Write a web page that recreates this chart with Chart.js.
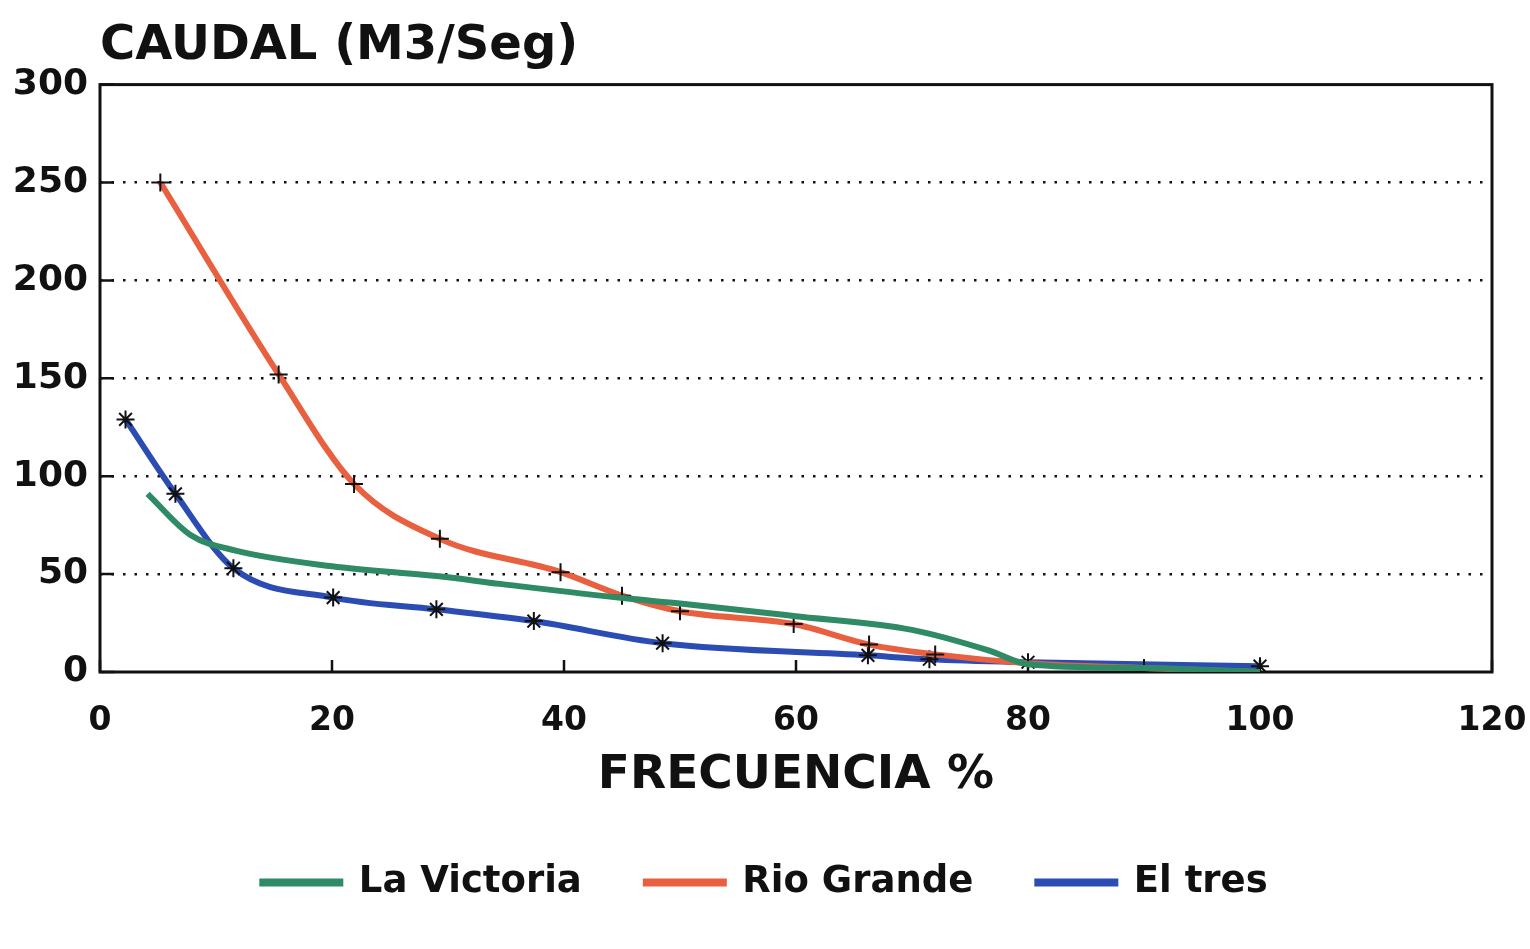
<!DOCTYPE html>
<html>
<head>
<meta charset="utf-8">
<script src="https://cdn.jsdelivr.net/npm/chart.js@4.4.1/dist/chart.umd.min.js"></script>
<style>
  html, body { margin: 0; background: #fff; }
  canvas { display: block; }
</style>
</head>
<body>
<canvas id="caudal" width="1530" height="949"></canvas>
<script>
// axis ticks
const xTicks = [0, 20, 40, 60, 80, 100, 120]
const yTicks = [0, 50, 100, 150, 200, 250, 300]

// frecuencia % / caudal (m3/seg)
const victoriaX = [4.1, 7.8, 11.7, 20, 29, 34.5, 45.5, 50, 59.8, 70, 76.6, 80, 90, 100]
const victoriaY = [91, 70, 62, 54, 49, 45, 37.5, 35, 28.6, 21.5, 11, 4, 2, 0]

const rioGrandeX = [5.2, 15.4, 21.9, 29.3, 39.7, 45, 50, 59.8, 66.3, 72, 80, 90, 100]
const rioGrandeY = [250, 152, 96, 68, 51, 39, 31, 24.5, 14, 9, 4.5, 2, 0]

const elTresX = [2.2, 6.5, 11.5, 20.1, 29, 37.4, 48.5, 66.2, 71.5, 80, 100]
const elTresY = [129, 91, 53, 38, 32, 26, 14.7, 8.5, 6.5, 5, 3]

const pts = (xs, ys) => xs.map((x, i) => ({ x, y: ys[i] }))

Chart.defaults.font.family = "'DejaVu Sans', sans-serif"
Chart.defaults.font.weight = 'bold'
Chart.defaults.color = '#111'

// box round the plot and the short inward tick marks
const frame = {
  id: 'frame',
  beforeDatasetsDraw(chart) {
    const { ctx, chartArea: a, scales: { x, y } } = chart
    ctx.save()
    ctx.strokeStyle = '#111'
    ctx.lineWidth = 3
    ctx.strokeRect(a.left, a.top, a.right - a.left, a.bottom - a.top)
    ctx.lineWidth = 2.5
    ctx.beginPath()
    x.ticks.forEach(t => {
      const px = x.getPixelForValue(t.value)
      ctx.moveTo(px, a.bottom)
      ctx.lineTo(px, a.bottom - 12)
    })
    y.ticks.forEach(t => {
      const py = y.getPixelForValue(t.value)
      ctx.moveTo(a.left, py)
      ctx.lineTo(a.left + 14, py)
    })
    ctx.stroke()
    ctx.restore()
  }
}

new Chart(document.getElementById('caudal').getContext('2d'), {
  type: 'line',
  data: {
    datasets: [
      {
        label: 'La Victoria',
        data: pts(victoriaX, victoriaY),
        borderColor: '#2f8a66',
        backgroundColor: '#2f8a66',
        borderWidth: 6,
        pointRadius: 0,
        cubicInterpolationMode: 'monotone'
      },
      {
        label: 'Rio Grande',
        data: pts(rioGrandeX, rioGrandeY),
        borderColor: '#e8603f',
        backgroundColor: '#e8603f',
        borderWidth: 6,
        pointStyle: 'cross',
        pointRadius: 9,
        pointBorderColor: '#111',
        pointBorderWidth: 2,
        cubicInterpolationMode: 'monotone'
      },
      {
        label: 'El tres',
        data: pts(elTresX, elTresY),
        borderColor: '#2b4db3',
        backgroundColor: '#2b4db3',
        borderWidth: 6,
        pointStyle: 'star',
        pointRadius: 9,
        pointBorderColor: '#111',
        pointBorderWidth: 2,
        cubicInterpolationMode: 'monotone'
      }
    ]
  },
  options: {
    responsive: false,
    animation: false,
    layout: { padding: { left: 0, right: 0, top: 0, bottom: 38 } },
    plugins: {
      title: {
        display: true,
        text: 'CAUDAL (M3/Seg)',
        align: 'start',
        fullSize: false,
        color: '#111',
        font: { size: 48, weight: 'bold', lineHeight: 1.2 },
        padding: { top: 18, bottom: 9 }
      },
      legend: {
        position: 'bottom',
        labels: {
          boxWidth: 78,
          boxHeight: 2,
          padding: 64,
          color: '#111',
          font: { size: 37, weight: 'bold' }
        }
      },
      tooltip: { enabled: false }
    },
    scales: {
      x: {
        type: 'linear',
        min: 0,
        max: 120,
        afterBuildTicks: s => { s.ticks = xTicks.map(v => ({ value: v })) },
        afterFit: s => { s.height = 128 },
        ticks: { padding: 3, font: { size: 33, weight: 'bold' } },
        // invisible tick marks only push the labels down
        grid: { drawOnChartArea: false, tickLength: 27, tickColor: 'rgba(0,0,0,0)' },
        border: { display: false },
        title: {
          display: true,
          text: 'FRECUENCIA %',
          color: '#111',
          font: { size: 47, weight: 'bold', lineHeight: 1 },
          padding: { top: 0, bottom: 1 }
        }
      },
      y: {
        min: 0,
        max: 300,
        afterBuildTicks: s => { s.ticks = yTicks.map(v => ({ value: v })) },
        afterFit: s => { s.width = 100 },
        ticks: { padding: 12, font: { size: 36, weight: 'bold' } },
        grid: {
          drawTicks: false,
          lineWidth: 2.5,
          color: c => (c.tick.value === 0 || c.tick.value === 300) ? 'rgba(0,0,0,0)' : '#111'
        },
        border: { display: false, dash: [2.5, 9] }
      },
      // empty right-hand strip so the plot ends where the scan's box ends
      y2: {
        position: 'right',
        afterFit: s => { s.width = 38 },
        ticks: { display: false },
        grid: { display: false },
        border: { display: false }
      }
    }
  },
  plugins: [frame]
})
</script>
</body>
</html>
